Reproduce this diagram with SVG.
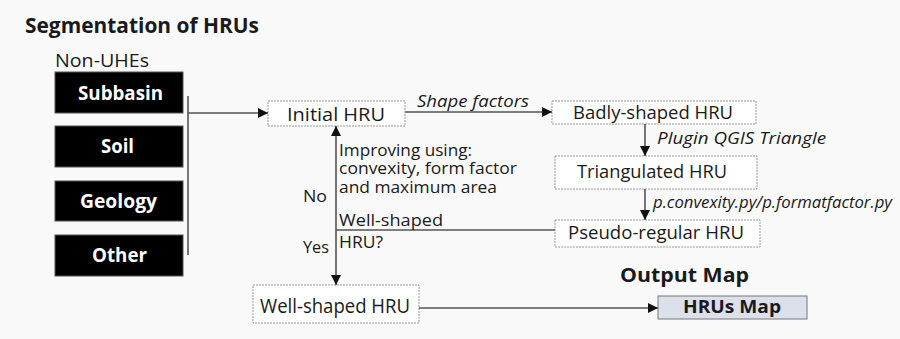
<svg xmlns="http://www.w3.org/2000/svg" width="900" height="339" viewBox="0 0 900 339">
<defs>
<marker id="ah" viewBox="0 0 10 10" refX="10" refY="5" markerWidth="11" markerHeight="10" markerUnits="userSpaceOnUse" orient="auto-start-reverse">
<path d="M0,0 L10,5 L0,10 z" fill="#111"/>
</marker>
<style>
text{font-family:"Open Sans","DejaVu Sans",sans-serif;fill:#1a1a1a}
.b{font-weight:bold}
.i{font-style:italic}
.w{fill:#fff;font-weight:bold}
.blk{fill:#000;stroke:#555;stroke-width:1}
.box{fill:#fff;stroke:#999;stroke-width:1;stroke-dasharray:2 1}
.ln{stroke:#555;stroke-width:1.6;fill:none}
</style>
</defs>
<rect width="900" height="339" fill="#f9f9f9"/>
<text class="b" x="25" y="33" font-size="21" textLength="234" lengthAdjust="spacingAndGlyphs">Segmentation of HRUs</text>
<text x="55" y="67" font-size="18" textLength="94" lengthAdjust="spacingAndGlyphs">Non-UHEs</text>

<g id="subbasin"><rect class="blk" x="55" y="72" width="128" height="41"/><text class="w" x="78" y="100" font-size="19" textLength="85" lengthAdjust="spacingAndGlyphs">Subbasin</text></g>
<g id="soil"><rect class="blk" x="55" y="126" width="128" height="41"/><text class="w" x="101" y="153" font-size="19" textLength="33" lengthAdjust="spacingAndGlyphs">Soil</text></g>
<g id="geology"><rect class="blk" x="55" y="181" width="128" height="40"/><text class="w" x="80" y="208" font-size="19" textLength="77" lengthAdjust="spacingAndGlyphs">Geology</text></g>
<g id="other"><rect class="blk" x="55" y="235" width="128" height="41"/><text class="w" x="92" y="262" font-size="19" textLength="55" lengthAdjust="spacingAndGlyphs">Other</text></g>

<g id="initial"><rect class="box" x="268" y="101" width="137" height="25"/><text x="287" y="121" font-size="19" textLength="98" lengthAdjust="spacingAndGlyphs">Initial HRU</text></g>
<g id="badly"><rect class="box" x="552" y="101" width="204" height="23"/><text x="573" y="119" font-size="18" textLength="160" lengthAdjust="spacingAndGlyphs">Badly-shaped HRU</text></g>
<g id="triangulated"><rect class="box" x="555" y="156" width="202" height="33"/><text x="577" y="178" font-size="19" textLength="150" lengthAdjust="spacingAndGlyphs">Triangulated HRU</text></g>
<g id="pseudo"><rect class="box" x="555" y="220" width="205" height="27"/><text x="568" y="239" font-size="19" textLength="176" lengthAdjust="spacingAndGlyphs">Pseudo-regular HRU</text></g>
<g id="wellshaped"><rect class="box" x="253" y="285" width="166" height="38"/><text x="260" y="313" font-size="20" textLength="150" lengthAdjust="spacingAndGlyphs">Well-shaped HRU</text></g>
<g id="hrusmap"><rect x="658" y="296" width="149" height="23" fill="#dce0ea" stroke="#777" stroke-width="1"/><text class="b" x="683" y="313" font-size="18" textLength="98" lengthAdjust="spacingAndGlyphs">HRUs Map</text></g>

<g id="connectors">
<line class="ln" x1="188" y1="96" x2="188" y2="255"/>
<line class="ln" x1="188" y1="113" x2="268" y2="113" marker-end="url(#ah)"/>
<line class="ln" x1="405" y1="112" x2="552" y2="112" marker-end="url(#ah)"/>
<line class="ln" x1="645" y1="124" x2="645" y2="156" marker-end="url(#ah)"/>
<line class="ln" x1="645" y1="189" x2="645" y2="220" marker-end="url(#ah)"/>
<line class="ln" x1="555" y1="230" x2="336" y2="230"/>
<line class="ln" x1="336" y1="126" x2="336" y2="285" marker-start="url(#ah)" marker-end="url(#ah)"/>
<line class="ln" x1="419" y1="308" x2="658" y2="308" marker-end="url(#ah)"/>
</g>

<text class="i" x="417" y="107" font-size="17" textLength="112" lengthAdjust="spacingAndGlyphs">Shape factors</text>
<text class="i" x="657" y="144" font-size="16" textLength="169" lengthAdjust="spacingAndGlyphs">Plugin QGIS Triangle</text>
<text class="i" x="653" y="208" font-size="16" textLength="239" lengthAdjust="spacingAndGlyphs">p.convexity.py/p.formatfactor.py</text>
<text x="339" y="156" font-size="16" textLength="133" lengthAdjust="spacingAndGlyphs">Improving using:</text>
<text x="339" y="174" font-size="16" textLength="178" lengthAdjust="spacingAndGlyphs">convexity, form factor</text>
<text x="339" y="193" font-size="16" textLength="158" lengthAdjust="spacingAndGlyphs">and maximum area</text>
<text x="303" y="202" font-size="16" textLength="24" lengthAdjust="spacingAndGlyphs">No</text>
<text x="339" y="226" font-size="16" textLength="104" lengthAdjust="spacingAndGlyphs">Well-shaped</text>
<text x="339" y="248" font-size="16" textLength="44" lengthAdjust="spacingAndGlyphs">HRU?</text>
<text x="303" y="253" font-size="16" textLength="26" lengthAdjust="spacingAndGlyphs">Yes</text>
<text class="b" x="620" y="282" font-size="19" textLength="129" lengthAdjust="spacingAndGlyphs">Output Map</text>
</svg>
